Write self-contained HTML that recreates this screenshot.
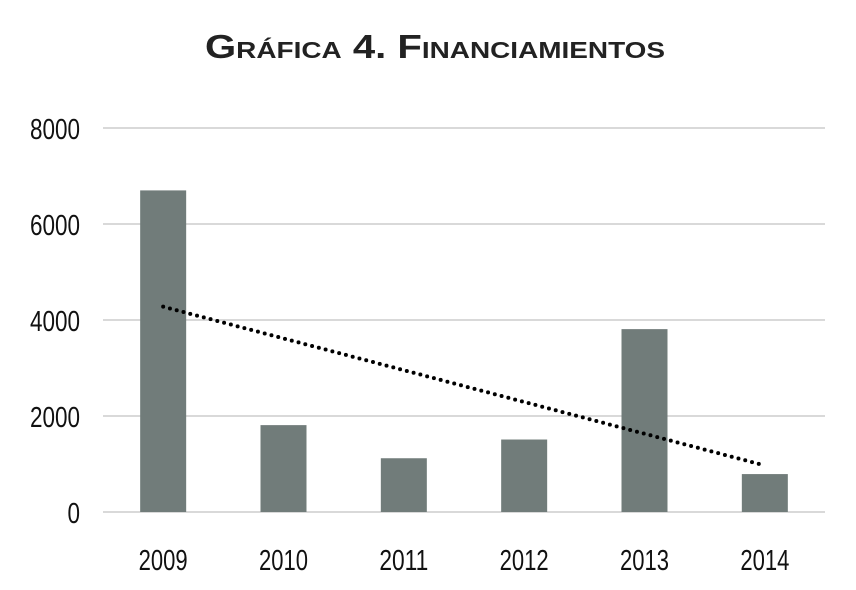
<!DOCTYPE html>
<html><head><meta charset="utf-8"><style>
html,body{margin:0;padding:0;background:#fff;}
svg{display:block;}
</style></head><body>
<svg id="chart" width="856" height="590" xmlns="http://www.w3.org/2000/svg">
<text x="435" y="58" text-anchor="middle" font-family="'Liberation Sans', sans-serif" font-weight="bold" font-size="33" fill="#222" textLength="460" lengthAdjust="spacingAndGlyphs" style="font-variant:small-caps">Gráfica 4. Financiamientos</text>
<g id="grid"></g><g id="bars"></g><g id="trend"></g><g id="labels"></g>
</svg>
<script>
const categories = ["2009","2010","2011","2012","2013","2014"];
const values = [6700, 1810, 1120, 1510, 3810, 790];
const yTicks = [0, 2000, 4000, 6000, 8000];
const NS = "http://www.w3.org/2000/svg";
const left = 103, right = 825, y0 = 512, yTop = 128, yMax = 8000;
const band = (right - left) / categories.length;
const barW = 46;
const xs = i => left + band * (i + 0.5);
const ys = v => y0 - (v / yMax) * (y0 - yTop);
const font = "'Liberation Sans Narrow','Liberation Sans',sans-serif";
function mk(tag, attrs, parent){const e=document.createElementNS(NS,tag);for(const k in attrs)e.setAttribute(k,attrs[k]);document.getElementById(parent).appendChild(e);return e;}
yTicks.forEach(t=>{
  const l=mk("line",{x1:left,x2:right,y1:ys(t),y2:ys(t),stroke:"#d9d9d9","stroke-width":2},"grid");
  
  
  const s=String(t);
  const tx=mk("text",{x:80,y:ys(t)+11,"text-anchor":"end","font-family":font,"font-size":29,fill:"#111",textLength:12.5*s.length,lengthAdjust:"spacingAndGlyphs"},"labels");
  tx.textContent=s;
  
  
});
categories.forEach((c,i)=>{
  const r=mk("rect",{x:xs(i)-barW/2,y:ys(values[i]),width:barW,height:y0-ys(values[i]),fill:"#717c7a"},"bars");
  
  
  const tx=mk("text",{x:xs(i),y:570,"text-anchor":"middle","font-family":font,"font-size":29,fill:"#111",textLength:49,lengthAdjust:"spacingAndGlyphs"},"labels");
  tx.textContent=c;
  
  
});
const n=values.length, mx=(n-1)/2, my=values.reduce((a,b)=>a+b,0)/n;
let sxy=0,sxx=0; values.forEach((v,i)=>{sxy+=(i-mx)*(v-my);sxx+=(i-mx)*(i-mx);});
const slope=sxy/sxx, icpt=my-slope*mx;
const tl=mk("line",{x1:xs(0),y1:ys(icpt),x2:xs(n-1),y2:ys(icpt+slope*(n-1)),stroke:"#000","stroke-width":4,"stroke-dasharray":"0 7","stroke-linecap":"round"},"trend");


</script>
</body></html>
